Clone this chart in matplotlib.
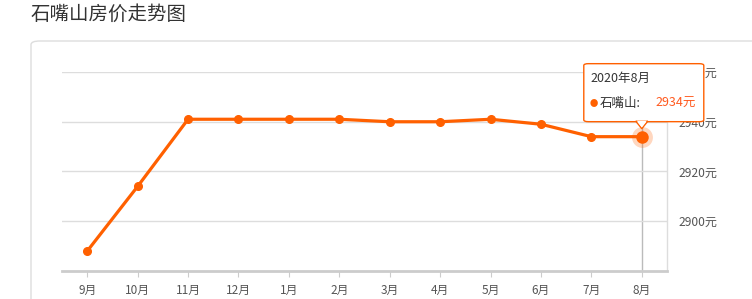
import matplotlib.pyplot as plt
from matplotlib.patches import FancyBboxPatch, Polygon

plt.rcParams['font.family'] = ['Noto Sans CJK SC', 'DejaVu Sans']

# data
months = ['9月', '10月', '11月', '12月', '1月', '2月', '3月', '4月', '5月', '6月', '7月', '8月']
prices = [2888, 2914, 2941, 2941, 2941, 2941, 2940, 2940, 2941, 2939, 2934, 2934]
yticks = [2900, 2920, 2940, 2960]
city = '石嘴山'
tip_label = '2020年8月'

W, H = 752, 299
orange = '#ff6000'

fig = plt.figure(figsize=(W / 100, H / 100), dpi=100)

def fx(px):
    return px / W

def fy(py):
    return 1 - py / H

# title and outer panel
fig.text(fx(31), fy(14), '石嘴山房价走势图', fontsize=14, color='#333333', va='center', ha='left')
panel = FancyBboxPatch((fx(31), fy(330)), fx(760), (330 - 41) / H,
                       boxstyle='round,pad=0,rounding_size=0.012',
                       transform=fig.transFigure, fc='white', ec='#dddddd', lw=1, zorder=-1)
fig.patches.append(panel)

ax = fig.add_axes([fx(62), fy(271), fx(667 - 62), (271 - 72) / H])
ax.set_zorder(1)
ax.set_facecolor('none')
x = list(range(len(months)))
ax.plot(x, prices, color=orange, lw=2.3, marker='o', ms=5.5, zorder=3, clip_on=False)

ax.set_xlim(-0.5, len(months) - 0.5)
ax.set_ylim(2880, 2960)
ax.set_xticks(x)
ax.set_xticklabels(months, fontsize=8.5, color='#555555')
ax.set_yticks(yticks)
ax.set_yticklabels([f'{v}元' for v in yticks], fontsize=8.7, color='#555555')
ax.yaxis.tick_right()
ax.tick_params(axis='y', length=0, pad=8)
ax.tick_params(axis='x', length=4, color='#cccccc', pad=5)
ax.grid(axis='y', color='#dddddd', lw=1)
for s in ['top', 'left']:
    ax.spines[s].set_visible(False)
ax.spines['bottom'].set_color('#cccccc')
ax.spines['bottom'].set_linewidth(2)
ax.spines['right'].set_color('#dddddd')
ax.spines['right'].set_linewidth(1)

# hover state on last point
last = len(months) - 1
ax.axvline(last, color='#bbbbbb', lw=1, zorder=1)
ax.plot(last, prices[last], 'o', ms=15, color=orange, alpha=0.25, zorder=4, mec='none')
ax.plot(last, prices[last], 'o', ms=9, color=orange, zorder=5, mec='none')

# tooltip, anchored on the point
fig.canvas.draw()
px, py = ax.transData.transform((last, prices[last]))
py_top = H - py
bx0, bx1 = px - 58, px + 62
by0, by1 = py_top - 73, py_top - 15
box = FancyBboxPatch((fx(bx0), fy(by1)), fx(bx1 - bx0), (by1 - by0) / H,
                     boxstyle='round,pad=0,rounding_size=0.006', transform=fig.transFigure,
                     fc='white', ec=orange, lw=1, zorder=10)
fig.patches.append(box)
tri = Polygon([(fx(px - 6), fy(by1 - 0.5)), (fx(px + 6), fy(by1 - 0.5)), (fx(px), fy(by1 + 7))],
              closed=True, transform=fig.transFigure, fc='white', ec=orange, lw=1, zorder=11)
fig.patches.append(tri)
cover = Polygon([(fx(px - 5), fy(by1 - 1)), (fx(px + 5), fy(by1 - 1)), (fx(px), fy(by1 + 5.5))],
                closed=True, transform=fig.transFigure, fc='white', ec='none', zorder=12)
fig.patches.append(cover)
fig.text(fx(bx0 + 7), fy(by0 + 15), tip_label, fontsize=9, color='#333333', va='center', ha='left', zorder=13)
fig.text(fx(bx0 + 6), fy(by0 + 40), '●', fontsize=6, color=orange, va='center', ha='left', zorder=13)
fig.text(fx(bx0 + 16), fy(by0 + 40), city + ':', fontsize=9, color='#333333', va='center', ha='left', zorder=13)
fig.text(fx(bx1 - 8), fy(by0 + 40), f'{prices[last]}元', fontsize=9, color='#ff5a1f', va='center', ha='right', zorder=13)

fig.savefig('out.png', dpi=100)
